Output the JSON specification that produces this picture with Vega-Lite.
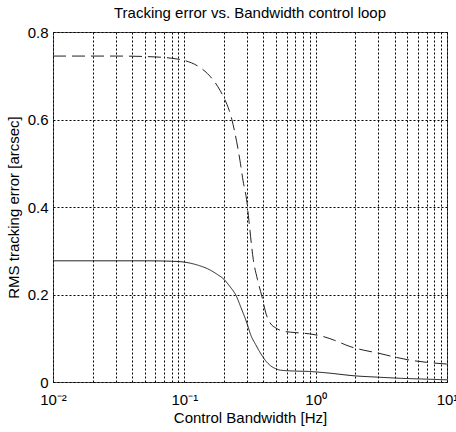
{
  "$schema": "https://vega.github.io/schema/vega-lite/v6.json",
  "width": 394,
  "height": 350,
  "autosize": "none",
  "padding": {"left": 53, "top": 32, "right": 9, "bottom": 50},
  "background": "white",
  "title": {"text": "Tracking error vs. Bandwidth control loop", "font": "Liberation Sans", "fontSize": 15, "fontWeight": "normal", "color": "black", "offset": 4},
  "config": {
    "view": {"stroke": "#555", "strokeWidth": 1},
    "axis": {"labelFont": "Liberation Sans", "titleFont": "Liberation Sans", "labelFontSize": 15, "titleFontSize": 15, "titleFontWeight": "normal", "labelColor": "black", "titleColor": "black", "domain": false, "ticks": false, "grid": true, "gridColor": "black", "gridDash": [2, 2], "gridOpacity": 1, "gridWidth": 1}
  },
  "data": {"values": [
    {"f": 0.01, "e": 0.745, "s": "dashed"},
    {"f": 0.03, "e": 0.745, "s": "dashed"},
    {"f": 0.05, "e": 0.744, "s": "dashed"},
    {"f": 0.08, "e": 0.740, "s": "dashed"},
    {"f": 0.1, "e": 0.735, "s": "dashed"},
    {"f": 0.13, "e": 0.72, "s": "dashed"},
    {"f": 0.15, "e": 0.705, "s": "dashed"},
    {"f": 0.18, "e": 0.675, "s": "dashed"},
    {"f": 0.2, "e": 0.65, "s": "dashed"},
    {"f": 0.22, "e": 0.62, "s": "dashed"},
    {"f": 0.23, "e": 0.60, "s": "dashed"},
    {"f": 0.25, "e": 0.55, "s": "dashed"},
    {"f": 0.265, "e": 0.507, "s": "dashed"},
    {"f": 0.28, "e": 0.46, "s": "dashed"},
    {"f": 0.30, "e": 0.41, "s": "dashed"},
    {"f": 0.31, "e": 0.37, "s": "dashed"},
    {"f": 0.335, "e": 0.28, "s": "dashed"},
    {"f": 0.36, "e": 0.235, "s": "dashed"},
    {"f": 0.39, "e": 0.195, "s": "dashed"},
    {"f": 0.42, "e": 0.155, "s": "dashed"},
    {"f": 0.45, "e": 0.135, "s": "dashed"},
    {"f": 0.5, "e": 0.123, "s": "dashed"},
    {"f": 0.57, "e": 0.116, "s": "dashed"},
    {"f": 0.7, "e": 0.113, "s": "dashed"},
    {"f": 0.9, "e": 0.110, "s": "dashed"},
    {"f": 1.14, "e": 0.104, "s": "dashed"},
    {"f": 1.4, "e": 0.095, "s": "dashed"},
    {"f": 1.83, "e": 0.081, "s": "dashed"},
    {"f": 2.3, "e": 0.073, "s": "dashed"},
    {"f": 3, "e": 0.066, "s": "dashed"},
    {"f": 4, "e": 0.057, "s": "dashed"},
    {"f": 5, "e": 0.051, "s": "dashed"},
    {"f": 7, "e": 0.045, "s": "dashed"},
    {"f": 10, "e": 0.041, "s": "dashed"},
    {"f": 0.01, "e": 0.277, "s": "solid"},
    {"f": 0.05, "e": 0.277, "s": "solid"},
    {"f": 0.08, "e": 0.276, "s": "solid"},
    {"f": 0.1, "e": 0.274, "s": "solid"},
    {"f": 0.13, "e": 0.266, "s": "solid"},
    {"f": 0.15, "e": 0.259, "s": "solid"},
    {"f": 0.18, "e": 0.245, "s": "solid"},
    {"f": 0.2, "e": 0.235, "s": "solid"},
    {"f": 0.22, "e": 0.22, "s": "solid"},
    {"f": 0.25, "e": 0.195, "s": "solid"},
    {"f": 0.27, "e": 0.17, "s": "solid"},
    {"f": 0.3, "e": 0.134, "s": "solid"},
    {"f": 0.32, "e": 0.108, "s": "solid"},
    {"f": 0.35, "e": 0.085, "s": "solid"},
    {"f": 0.38, "e": 0.066, "s": "solid"},
    {"f": 0.42, "e": 0.047, "s": "solid"},
    {"f": 0.45, "e": 0.038, "s": "solid"},
    {"f": 0.5, "e": 0.030, "s": "solid"},
    {"f": 0.54, "e": 0.027, "s": "solid"},
    {"f": 0.7, "e": 0.025, "s": "solid"},
    {"f": 0.9, "e": 0.024, "s": "solid"},
    {"f": 1.2, "e": 0.021, "s": "solid"},
    {"f": 2, "e": 0.014, "s": "solid"},
    {"f": 3, "e": 0.011, "s": "solid"},
    {"f": 4.4, "e": 0.0085, "s": "solid"},
    {"f": 7, "e": 0.0065, "s": "solid"},
    {"f": 10, "e": 0.005, "s": "solid"}
  ]},
  "mark": {"type": "line", "interpolate": "monotone", "strokeWidth": 1, "color": "#222", "clip": true},
  "encoding": {
    "x": {"field": "f", "type": "quantitative", "scale": {"type": "log", "domain": [0.01, 10], "nice": false},
      "axis": {"title": "Control Bandwidth [Hz]", "titlePadding": 3, "labelPadding": 10, "labelOverlap": false, "labelFlush": false, "labelBound": false,
        "values": [0.01,0.02,0.03,0.04,0.05,0.06,0.07,0.08,0.09,0.1,0.2,0.3,0.4,0.5,0.6,0.7,0.8,0.9,1,2,3,4,5,6,7,8,9,10],
        "labelExpr": "datum.value == 0.01 ? '10⁻²' : datum.value == 0.1 ? '10⁻¹' : datum.value == 1 ? '10⁰' : datum.value == 10 ? '10¹' : ''"}},
    "y": {"field": "e", "type": "quantitative", "scale": {"domain": [0, 0.8], "nice": false},
      "axis": {"title": "RMS tracking error [arcsec]", "values": [0, 0.2, 0.4, 0.6, 0.8], "labelExpr": "datum.value == 0 ? '0' : format(datum.value, '.1f')", "labelPadding": 5, "titlePadding": 6}},
    "strokeDash": {"field": "s", "type": "nominal", "legend": null, "scale": {"domain": ["dashed", "solid"], "range": [[13, 6], [1, 0]]}}
  }
}
